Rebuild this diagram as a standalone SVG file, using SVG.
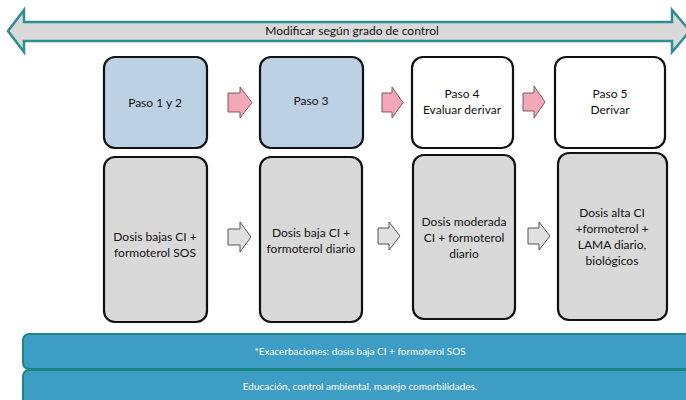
<svg xmlns="http://www.w3.org/2000/svg" width="686" height="400" viewBox="0 0 686 400">
<style>
text{font-family:"Lato","Liberation Sans",sans-serif;font-size:12px;fill:#111;text-anchor:middle}
.step{stroke:#111;stroke-width:2.2}
.blue{fill:#bdd1e4}
.white{fill:#fff}
.gray{fill:#d9d9d9}
.pink{fill:#f4a7b6;stroke:#7a5a5f;stroke-width:1}
.garr{fill:#e0e0e0;stroke:#555;stroke-width:1}
.band{fill:#3e9dc5;stroke:#1d8585;stroke-width:2}
.bt{fill:#fff;font-size:10px}
</style>
<g id="control-arrow">
<path d="M8,31 L24,10 L24,22 L672,22 L672,10 L690,31 L672,52 L672,41 L24,41 L24,52 Z" fill="#d9d9d9" stroke="#2a8e92" stroke-width="2.5"/>
<text x="352" y="35">Modificar según grado de control</text>
</g>
<g id="paso12"><rect class="step blue" x="104" y="57" width="103" height="91" rx="11"/><text x="155" y="107">Paso 1 y 2</text></g>
<g id="paso3"><rect class="step blue" x="260" y="57" width="103" height="91" rx="11"/><text x="311" y="105">Paso 3</text></g>
<g id="paso4"><rect class="step white" x="412" y="57" width="101" height="91" rx="11"/><text x="462" y="98">Paso 4</text><text x="462" y="114">Evaluar derivar</text></g>
<g id="paso5"><rect class="step white" x="555" y="57" width="110" height="91" rx="11"/><text x="610" y="98">Paso 5</text><text x="610" y="114">Derivar</text></g>
<g id="dosis1"><rect class="step gray" x="104" y="157" width="103" height="165" rx="11"/><text x="155" y="241">Dosis bajas CI +</text><text x="155" y="257">formoterol SOS</text></g>
<g id="dosis2"><rect class="step gray" x="260" y="157" width="102" height="165" rx="11"/><text x="311" y="237">Dosis baja CI +</text><text x="311" y="253">formoterol diario</text></g>
<g id="dosis3"><rect class="step gray" x="413" y="155" width="102" height="164" rx="11"/><text x="464" y="226">Dosis moderada</text><text x="464" y="242">CI + formoterol</text><text x="464" y="258">diario</text></g>
<g id="dosis4"><rect class="step gray" x="558" y="153" width="109" height="167" rx="11"/><text x="612" y="217">Dosis alta CI</text><text x="612" y="233">+formoterol +</text><text x="612" y="249">LAMA diario,</text><text x="612" y="265">biológicos</text></g>
<g id="connectors">
<path class="pink" d="M228,93 L240,93 L240,87 L252,102.5 L240,118 L240,112 L228,112 Z"/>
<path class="pink" d="M382,93 L392,93 L392,87 L403,102.5 L392,118 L392,112 L382,112 Z"/>
<path class="pink" d="M523,93 L534,93 L534,86 L545,102 L534,118 L534,111 L523,111 Z"/>
<path class="garr" d="M228,229 L240,229 L240,222 L251,237 L240,252 L240,245 L228,245 Z"/>
<path class="garr" d="M378,228 L389,228 L389,222 L400,236 L389,250 L389,244 L378,244 Z"/>
<path class="garr" d="M528,228 L539,228 L539,222 L550,236 L539,250 L539,244 L528,244 Z"/>
</g>
<g id="exacerbaciones"><rect class="band" x="23" y="334" width="680" height="35" rx="6"/><text class="bt" x="360" y="355">*Exacerbaciones: dosis baja CI + formoterol SOS</text></g>
<g id="educacion"><rect class="band" x="23" y="370" width="680" height="40" rx="6"/><text class="bt" x="360" y="390">Educación, control ambiental, manejo comorbilidades.</text></g>
</svg>
